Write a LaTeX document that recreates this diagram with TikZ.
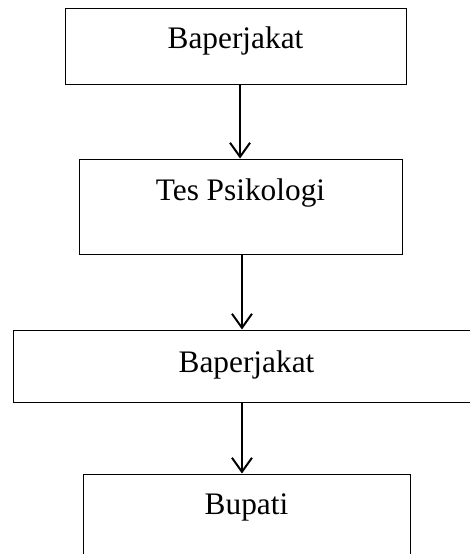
\documentclass[tikz,border=0pt]{standalone}
\usepackage{fontspec}
\setmainfont{Liberation Serif}
\usetikzlibrary{arrows.meta, positioning, calc}

\begin{document}
\begin{tikzpicture}[
  x=0.75pt, y=-0.75pt,
  every node/.style={rectangle, draw, line width=0.75pt, inner sep=0pt,
    text centered, font=\fontsize{23.5}{28}\selectfont},
  flow/.style={draw, line width=1.5pt, -{Straight Barb[length=10.5pt, width=15pt, line width=1.5pt]}}
]
\useasboundingbox (0,0) rectangle (470,554);
\clip (0,0) rectangle (470,554);

\node[minimum width=255.75pt, text height=30pt, text depth=27pt]
  (b1) at (235.5,46) {Baperjakat};
\node[minimum width=242.25pt, text height=30.75pt, text depth=40.5pt]
  (b2) at (240.5,206.5) {Tes Psikologi};
\node[minimum width=350.25pt, text height=31.5pt, text depth=22.5pt]
  (b3) at (246.5,366) {Baperjakat};
\node[minimum width=245.25pt, text height=30pt, text depth=45pt]
  (b4) at (246.5,524) {Bupati};

\draw[flow] ([xshift=3.4pt]b1.south) -- ([xshift=3.4pt]b1.south |- b2.north);
\draw[flow] ([xshift=1.1pt]b2.south) -- ([xshift=1.1pt]b2.south |- b3.north);
\draw[flow] ([xshift=-3.4pt]b3.south) -- ([xshift=-3.4pt]b3.south |- b4.north);

\end{tikzpicture}
\end{document}
